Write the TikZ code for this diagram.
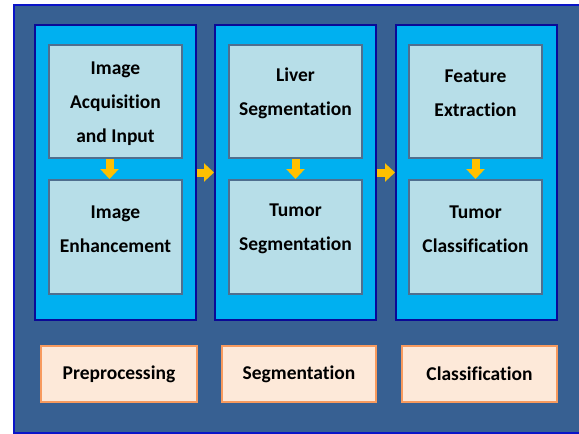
\documentclass[tikz,border=0pt]{standalone}
\usepackage{fontspec}
\setmainfont[Ligatures=NoCommon]{Carlito}
\usetikzlibrary{arrows.meta}
\definecolor{outerbg}{HTML}{376092}
\definecolor{outerln}{HTML}{0A14C8}
\definecolor{panelbg}{HTML}{00B0F0}
\definecolor{panelln}{HTML}{0A0A96}
\definecolor{boxbg}{HTML}{B7DEE8}
\definecolor{boxln}{HTML}{4F6F8F}
\definecolor{labbg}{HTML}{FDE9D9}
\definecolor{labln}{HTML}{F79A5E}
\definecolor{arrowc}{HTML}{FFC000}
\begin{document}
\begin{tikzpicture}[x=1pt,y=-1pt,
  outer/.style={draw=outerln,fill=outerbg,line width=2pt},
  panel/.style={draw=panelln,fill=panelbg,line width=2pt,minimum width=161pt,minimum height=295pt,inner sep=0pt},
  stepbox/.style={draw=boxln,fill=boxbg,line width=2pt,minimum width=133pt,inner sep=0pt},
  labbox/.style={draw=labln,fill=labbg,line width=2pt,minimum height=56pt,inner sep=0pt,
     font=\bfseries\fontsize{19.5}{23}\selectfont},
  txt/.style={font=\bfseries\fontsize{19.5}{34}\selectfont,align=center,inner sep=0pt},
  flow/.style={draw=arrowc,line width=8pt,-{Triangle[width=18pt,length=10pt]}}
]
\useasboundingbox (0,0) rectangle (579,434);
\draw[outer] (14,5) rectangle (582,433);
% panels
\node[panel] (p1) at (115.5,172.5) {};
\node[panel] (p2) at (295.5,172.5) {};
\node[panel] (p3) at (476.5,172.5) {};
% boxes
\node[stepbox,minimum height=113pt] (a1) at (115.5,101.5) {};
\node[stepbox,minimum height=114pt] (b1) at (115.5,237) {};
\node[stepbox,minimum height=113pt] (a2) at (295.5,101.5) {};
\node[stepbox,minimum height=114pt] (b2) at (295.5,237) {};
\node[stepbox,minimum height=113pt] (a3) at (475.5,101.5) {};
\node[stepbox,minimum height=114pt] (b3) at (475.5,237) {};
% texts
\node[txt] (ta1) at ([yshift=-2pt]a1.center) {Image\\Acquisition\\and Input};
\node[txt] (tb1) at ([yshift=8pt]b1.center) {Image\\Enhancement};
\node[txt] (ta2) at ([yshift=8pt]a2.center) {Liver\\Segmentation};
\node[txt] (tb2) at ([yshift=8pt]b2.center) {Tumor\\Segmentation};
\node[txt] (ta3) at ([yshift=8pt]a3.center) {Feature\\Extraction};
\node[txt] (tb3) at ([yshift=8pt]b3.center) {Tumor\\Classification};
% arrows
\draw[flow] ([xshift=-6pt]a1.south) -- ([xshift=-6pt]b1.north);
\draw[flow] (a2.south) -- (b2.north);
\draw[flow] (a3.south) -- (b3.north);
\draw[flow] (p1.east) -- (p2.west);
\draw[flow] (p2.east) -- (p3.west);
% labels
\node[labbox,minimum width=156pt] (l1) at (119,374) {Preprocessing};
\node[labbox,minimum width=154pt] (l2) at (299,374) {Segmentation};
\node[labbox,minimum width=155pt] (l3) at (479.5,374) {Classification};
\end{tikzpicture}
\end{document}
